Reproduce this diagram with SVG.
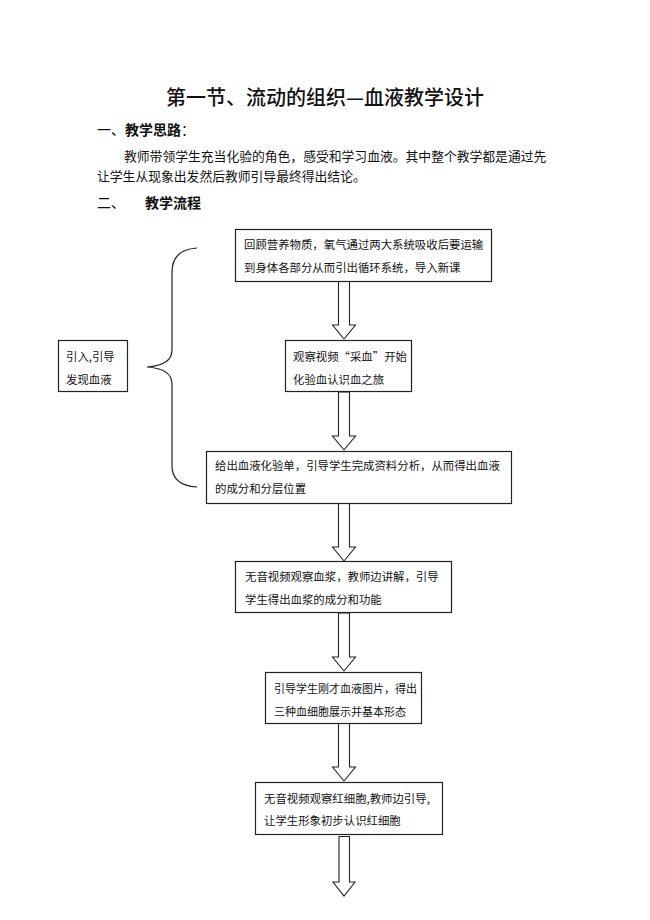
<svg xmlns="http://www.w3.org/2000/svg" width="650" height="920" viewBox="0 0 650 920">
<style>
text{font-family:"Noto Sans CJK SC","Noto Sans",sans-serif;fill:#111;}
.t{font-size:20px;font-weight:500;}
.h{font-size:14px;font-weight:700;}
.p{font-size:12.8px;}
.b{font-size:11.4px;}
.box{fill:#fff;stroke:#222;stroke-width:1.2;}
.arr{fill:#fff;stroke:#222;stroke-width:1.1;stroke-linejoin:miter;}
.br{fill:none;stroke:#222;stroke-width:1.2;}
</style>
<rect width="650" height="920" fill="#fff"/>
<text class="t" x="325" y="105" text-anchor="middle">第一节、流动的组织—血液教学设计</text>
<text class="h" x="97" y="135"><tspan font-weight="400">一、</tspan>教学思路<tspan font-weight="400">：</tspan></text>
<text class="p" x="124" y="161">教师带领学生充当化验的角色，感受和学习血液。其中整个教学都是通过先</text>
<text class="p" x="97" y="181">让学生从现象出发然后教师引导最终得出结论。</text>
<text class="h" x="97" y="208"><tspan font-weight="400">二、</tspan><tspan x="145">教学流程</tspan></text>
<g id="connectors">
<polygon class="arr" points="338.5,281 349.5,281 349.5,325 355.5,325 344,339 332.5,325 338.5,325"/>
<polygon class="arr" points="338.5,392 349.5,392 349.5,436 355.5,436 344,450 332.5,436 338.5,436"/>
<polygon class="arr" points="338.5,503 349.5,503 349.5,547 355.5,547 344,561 332.5,547 338.5,547"/>
<polygon class="arr" points="338.5,613 349.5,613 349.5,657 355.5,657 344,671 332.5,657 338.5,657"/>
<polygon class="arr" points="338.5,723 349.5,723 349.5,767 355.5,767 344,781 332.5,767 338.5,767"/>
<polygon class="arr" points="339,836.5 349.5,836.5 349.5,882 355,882 344,896 333,882 339,882"/>
<path class="br" d="M197,248 C181,249 172,256 172,272 L172,350 C172,361 162,366 147,367 C162,368 172,373 172,384 L172,466 C172,480 181,486 197,487"/>
</g>
<g id="n1"><rect class="box" x="235.5" y="229.5" width="256" height="52"/>
<text class="b" x="244" y="249">回顾营养物质，氧气通过两大系统吸收后要运输</text>
<text class="b" x="244" y="272">到身体各部分从而引出循环系统，导入新课</text></g>
<g id="n2"><rect class="box" x="285.5" y="340.5" width="126" height="51"/>
<text class="b" x="293" y="361">观察视频“采血”开始</text>
<text class="b" x="293" y="384">化验血认识血之旅</text></g>
<g id="n3"><rect class="box" x="206.5" y="451.5" width="305" height="52"/>
<text class="b" x="215" y="470">给出血液化验单，引导学生完成资料分析，从而得出血液</text>
<text class="b" x="215" y="493">的成分和分层位置</text></g>
<g id="n4"><rect class="box" x="235.5" y="561.5" width="216" height="51"/>
<text class="b" x="245" y="581">无音视频观察血浆，教师边讲解，引导</text>
<text class="b" x="245" y="604">学生得出血浆的成分和功能</text></g>
<g id="n5"><rect class="box" x="265.5" y="672.5" width="156" height="51"/>
<text class="b" x="274" y="693" textLength="143" lengthAdjust="spacingAndGlyphs">引导学生刚才血液图片，得出</text>
<text class="b" x="274" y="716" textLength="132" lengthAdjust="spacingAndGlyphs">三种血细胞展示并基本形态</text></g>
<g id="n6"><rect class="box" x="255.5" y="782.5" width="187" height="52"/>
<text class="b" x="264" y="803">无音视频观察红细胞,教师边引导,</text>
<text class="b" x="264" y="825">让学生形象初步认识红细胞</text></g>
<g id="n0"><rect class="box" x="58.5" y="340.5" width="69" height="51"/>
<text class="b" x="66" y="361">引入,引导</text>
<text class="b" x="66" y="384">发现血液</text></g>
</svg>
